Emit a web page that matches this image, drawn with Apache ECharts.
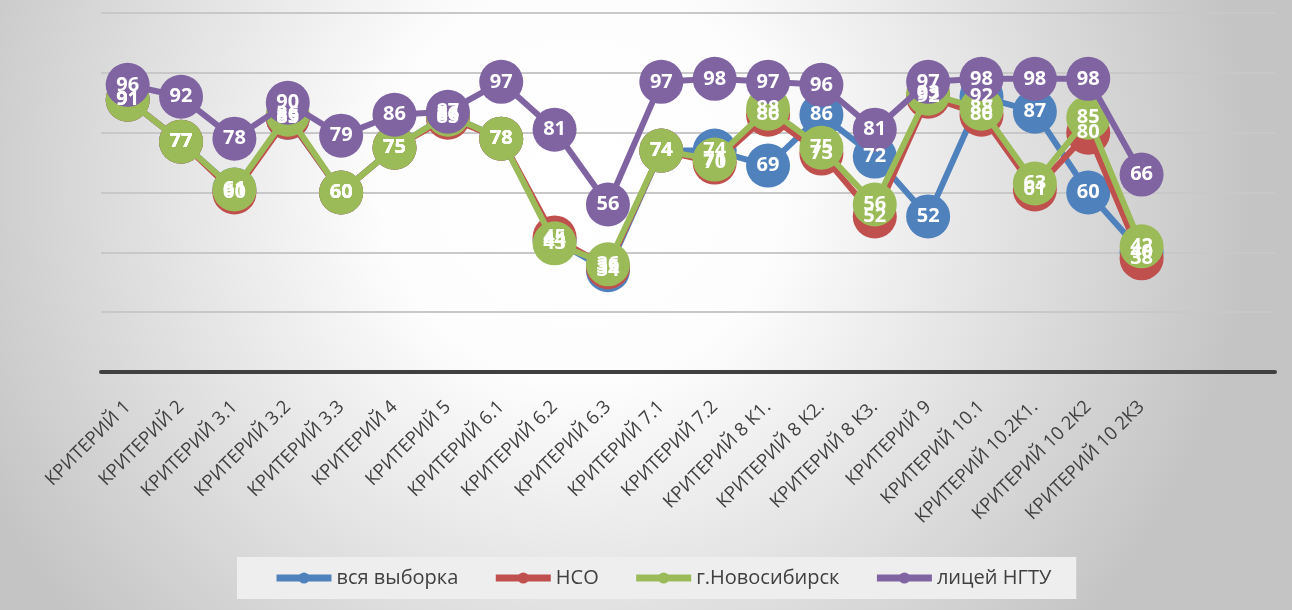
<!DOCTYPE html>
<html>
<head>
<meta charset="utf-8">
<script src="https://cdn.jsdelivr.net/npm/echarts@6/dist/echarts.min.js"></script>
<style>html,body{margin:0;padding:0;}#c{width:1292px;height:610px;}</style>
</head>
<body>
<div id="c"></div>
<script>
const categories = ['КРИТЕРИЙ 1','КРИТЕРИЙ 2','КРИТЕРИЙ 3.1','КРИТЕРИЙ 3.2','КРИТЕРИЙ 3.3','КРИТЕРИЙ 4','КРИТЕРИЙ 5','КРИТЕРИЙ 6.1','КРИТЕРИЙ 6.2','КРИТЕРИЙ 6.3','КРИТЕРИЙ 7.1','КРИТЕРИЙ 7.2','КРИТЕРИЙ 8 К1.','КРИТЕРИЙ 8 К2.','КРИТЕРИЙ 8 К3.','КРИТЕРИЙ 9','КРИТЕРИЙ 10.1','КРИТЕРИЙ 10.2К1.','КРИТЕРИЙ 10 2К2','КРИТЕРИЙ 10 2К3','',''];
const seriesNames = ['вся выборка','НСО','г.Новосибирск','лицей НГТУ'];
const vsyaVyborka = [91,77,61,85,60,75,86,78,44,34,74,74,69,86,72,52,92,87,60,40];
const nso        = [91,77,60,85,60,75,85,78,45,35,74,70,86,73,52,92,86,61,80,38];
const novosib    = [91,77,61,86,60,75,86,78,43,36,74,71,88,75,56,93,88,63,85,42];
const liceyNGTU  = [96,92,78,90,79,86,87,97,81,56,97,98,97,96,81,97,98,98,98,66];
const yTicks = {min:0, max:120, interval:20};

const colors = ['#4f81bd','#c0504d','#9bbb59','#8064a2'];
const allData = [vsyaVyborka, nso, novosib, liceyNGTU];
const FONT = '"Open Sans", "Noto Sans", sans-serif';

const lineSeries = allData.map((d, i) => ({
  name: seriesNames[i], type: 'line', data: d,
  symbol: 'circle', symbolSize: 44,
  lineStyle: {width: 6, color: colors[i]},
  itemStyle: {color: colors[i]},
  label: {show:false},
  z: 2 + i
}));
const labelSeries = allData.map((d, i) => ({
  name: 'lbl' + i, type: 'line', data: d,
  symbol: 'circle', symbolSize: 2, silent: true,
  lineStyle: {width: 0, color: 'rgba(0,0,0,0)'},
  itemStyle: {color: 'rgba(0,0,0,0)', borderWidth: 0},
  label: {show:true, position:'inside', color:'#ffffff', fontWeight:'bold', fontSize:20, fontFamily: FONT},
  z: 10 + i
}));

const chart = echarts.init(document.getElementById('c'));
chart.setOption({
  backgroundColor: new echarts.graphic.RadialGradient(0.45, 0.3, 1.1, [
    {offset:0, color:'#ffffff'},
    {offset:0.3, color:'#fdfdfd'},
    {offset:1, color:'#c4c4c4'}
  ]),
  animation: false,
  color: colors.concat(colors),
  grid: {left:101, right:17, top:13, bottom:238, containLabel:false},
  legend: {
    left: 237, top: 557,
    data: seriesNames,
    itemWidth: 55, itemHeight: 14, itemGap: 34,
    padding: [11, 25, 11, 36],
    backgroundColor: '#eeeeee',
    lineStyle: {width: 7},
    textStyle: {color:'#404040', fontSize:20, fontFamily: FONT}
  },
  xAxis: {
    type: 'category', data: categories, boundaryGap: true,
    axisLine: {lineStyle: {color:'#404040', width:4}},
    axisTick: {show:false},
    axisLabel: {rotate:45, interval:0, color:'#404040', fontSize:18.5, fontFamily: FONT, margin:32}
  },
  yAxis: {
    type: 'value', min: yTicks.min, max: yTicks.max, interval: yTicks.interval,
    axisLabel: {show:false}, axisLine: {show:false}, axisTick: {show:false},
    splitLine: {lineStyle: {color:'#c8c8c8', width:2}}
  },
  series: lineSeries.concat(labelSeries)
});
</script>
</body>
</html>
